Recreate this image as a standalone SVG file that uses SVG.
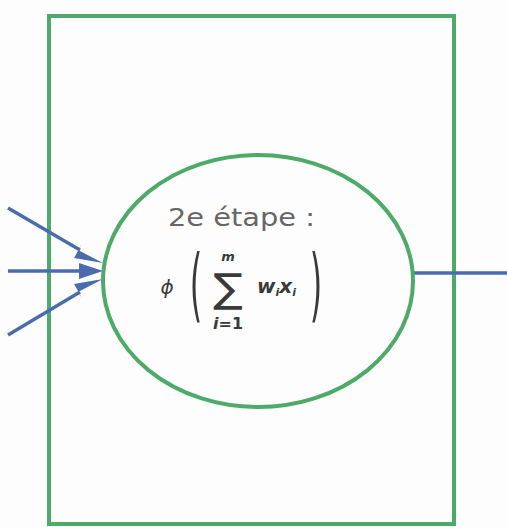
<svg xmlns="http://www.w3.org/2000/svg" width="507" height="527" viewBox="0 0 507 527">
<style>
.g{fill:none;stroke:#4daa68;stroke-width:4}
.c{stroke:#4a6cae;stroke-width:3.5;fill:none}
.t{font-family:"DejaVu Sans","Open Sans",sans-serif;fill:#666}
.m{font-family:"DejaVu Sans","Liberation Sans",sans-serif;fill:#3a3a3a;font-style:italic}
.p{font-family:"DejaVu Sans","Liberation Sans",sans-serif;fill:#3a3a3a}
</style>
<rect width="507" height="527" fill="#fefdfe"/>
<g id="box"><rect class="g" x="49" y="16" width="405" height="508"/></g>
<g id="connectors">
<line class="c" x1="8" y1="208" x2="80" y2="250"/>
<path d="M78,250 L103,263 L74,258 L82,244 z" fill="#4a6cae"/>
<line class="c" x1="8" y1="271" x2="80" y2="271"/>
<path d="M79,263 L103,271 L79,279 z" fill="#4a6cae"/>
<line class="c" x1="8" y1="335" x2="80" y2="292"/>
<path d="M78,292 L103,279 L74,284 L82,298 z" fill="#4a6cae"/>
<line class="c" x1="413" y1="273" x2="507" y2="273"/>
</g>
<g id="neuron">
<ellipse class="g" cx="258" cy="281" rx="155" ry="126"/>
<text class="t" x="168" y="226" font-size="25" textLength="147" lengthAdjust="spacingAndGlyphs">2e étape :</text>
<text class="m" x="167" y="294" font-size="20" text-anchor="middle">ϕ</text>
<text class="p" font-size="40" text-anchor="middle" transform="translate(196,312) scale(0.8,2)">(</text>
<text class="p" font-size="40" text-anchor="middle" transform="translate(316,312) scale(0.8,2)">)</text>
<text class="p" font-size="40" text-anchor="middle" transform="translate(228,302) scale(1.1,1)">∑</text>
<text class="m" x="228" y="261" font-size="13" text-anchor="middle" font-weight="bold">m</text>
<text class="m" x="228" y="329" font-size="16" text-anchor="middle" font-weight="bold">i<tspan style="font-style:normal">=1</tspan></text>
<text class="m" x="257" y="293" font-size="20" font-weight="bold">w<tspan font-size="11" dy="3">i</tspan><tspan dy="-3">x</tspan><tspan font-size="11" dy="3">i</tspan></text>
</g>
</svg>
